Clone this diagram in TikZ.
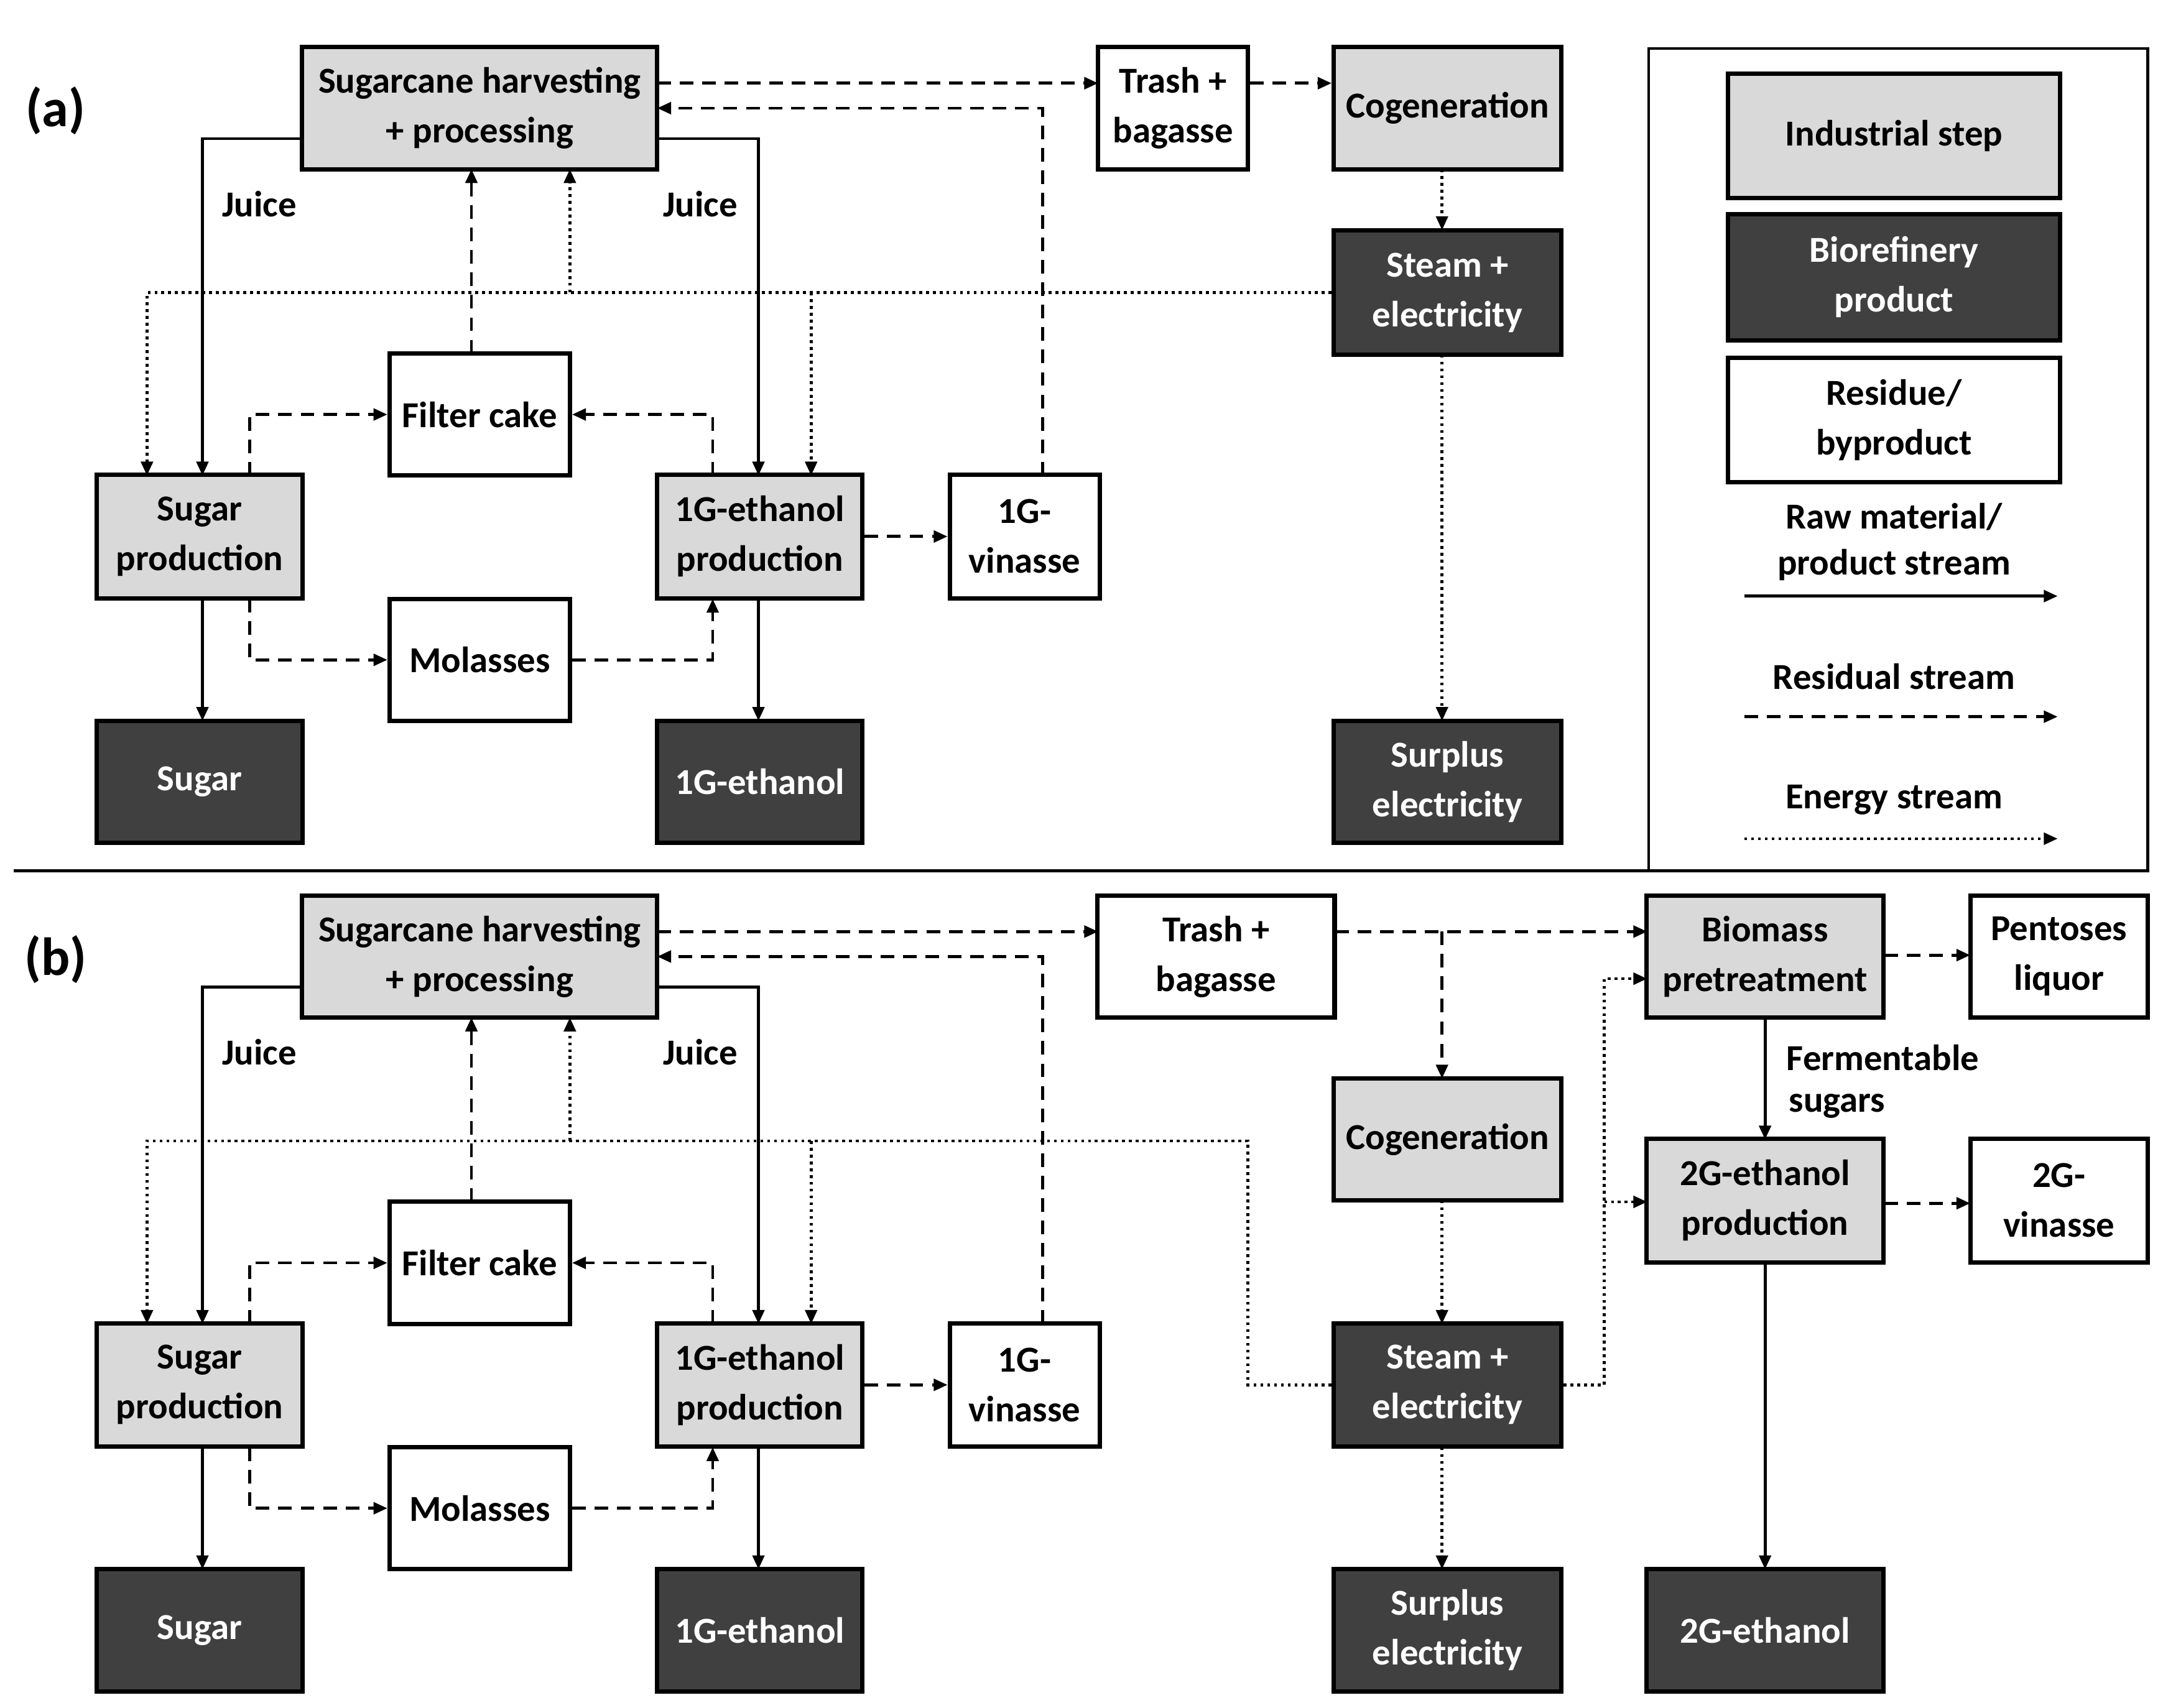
\documentclass[tikz,border=0pt]{standalone}
\usepackage{fontspec}
\setmainfont{Carlito}
\usetikzlibrary{arrows.meta}
\definecolor{lg}{RGB}{217,217,217}
\definecolor{dg}{RGB}{64,64,64}
\tikzset{
 bx/.style={draw=black,line width=0.9pt,inner sep=0pt,align=center,font=\fontsize{7.5}{10.2}\selectfont\bfseries},
 ind/.style={bx,fill=lg},
 bio/.style={bx,fill=dg,text=white},
 res/.style={bx,fill=white},
 tip/.style={-{Triangle[length=1mm,width=0.85mm]}},
 raw/.style={tip,line width=0.6pt},
 resid/.style={tip,line width=0.6pt,dash pattern=on 2.8pt off 1.8pt},
 ener/.style={tip,line width=0.6pt,dash pattern=on 0.6pt off 0.8pt},
 lbl/.style={align=center,font=\fontsize{7.5}{9.4}\selectfont\bfseries},
}
\newcommand{\mypanel}{%
 \node[ind,minimum width=2.56cm,minimum height=0.88cm] (sh) at (346,78) {Sugarcane harvesting\\+ processing};
 \node[res,minimum width=1.30cm,minimum height=0.88cm] (fc) at (346,299) {Filter cake};
 \node[ind,minimum width=1.48cm,minimum height=0.89cm] (sp) at (144,387) {Sugar\\production};
 \node[ind,minimum width=1.48cm,minimum height=0.89cm] (ep) at (548,387) {1G-ethanol\\production};
 \node[res,minimum width=1.08cm,minimum height=0.89cm] (vn) at (739,387) {1G-\\vinasse};
 \node[res,minimum width=1.30cm,minimum height=0.88cm] (ml) at (346,476) {Molasses};
 \node[bio,minimum width=1.48cm,minimum height=0.88cm] (sg) at (144,564) {Sugar};
 \node[bio,minimum width=1.48cm,minimum height=0.88cm] (et) at (548,564) {1G-ethanol};
 \node[lbl] (j1) at (187,147) {Juice};
 \node[lbl] (j2) at (505,147) {Juice};
 \draw[raw] (218,100) -| (146,343);
 \draw[raw] (474,100) -| (547,343);
 \draw[raw] (146,432) -- (146,520);
 \draw[raw] (547,432) -- (547,520);
 \draw[resid] (474,60) -- (792,60);
 \draw[resid] (752,343) |- (474,78);
 \draw[resid] (340,255) -- (340,122);
 \draw[resid] (180,343) |- (fc.west);
 \draw[resid] (514,343) |- (fc.east);
 \draw[resid] (180,432) |- (ml.west);
 \draw[resid] (ml.east) -| (514,432);
 \draw[resid] (ep.east) -- (vn.west);
 \draw[ener] (411,211) -- (411,122);
 \draw[ener] (585,211) -- (585,343);
}
\begin{document}
\begin{tikzpicture}[x=0.01cm,y=-0.01cm]
\useasboundingbox (0,0) rectangle (1560,1232);
% panel (a)
\node[font=\fontsize{11}{12}\selectfont\bfseries] (la) at (40,80) {(a)};
\begin{scope}[name prefix=a-]
\mypanel
\node[res,minimum width=1.08cm,minimum height=0.88cm] (tr) at (846,78) {Trash +\\bagasse};
\node[ind,minimum width=1.64cm,minimum height=0.88cm] (cg) at (1044,78) {Cogeneration};
\node[bio,minimum width=1.64cm,minimum height=0.90cm] (st) at (1044,211) {Steam +\\electricity};
\node[bio,minimum width=1.64cm,minimum height=0.88cm] (su) at (1044,564) {Surplus\\electricity};
\draw[resid] (tr.east |- 0,60) -- (cg.west |- 0,60);
\draw[ener] (1040,122) -- (1040,166);
\draw[ener] (1040,256) -- (1040,520);
\draw[ener] (st.west) -| (106,343);
\end{scope}
% legend
\draw[line width=0.6pt] (1189,35) rectangle (1549,628);
\node[ind,minimum width=2.39cm,minimum height=0.90cm] (l1) at (1366,98) {Industrial\ step};
\node[bio,minimum width=2.39cm,minimum height=0.91cm] (l2) at (1366,200) {Biorefinery\\product};
\node[res,minimum width=2.39cm,minimum height=0.90cm] (l3) at (1366,303) {Residue/\\byproduct};
\node[lbl] (t1) at (1366,391) {Raw material/\\product stream};
\node[lbl] (t2) at (1366,488) {Residual stream};
\node[lbl] (t3) at (1366,577) {Energy stream};
\coordinate (r1) at (1258,430); \coordinate (r2) at (1484,430);
\coordinate (s1) at (1258,517); \coordinate (s2) at (1484,517);
\coordinate (e1) at (1258,605); \coordinate (e2) at (1484,605);
\draw[raw] (r1) -- (r2);
\draw[resid] (s1) -- (s2);
\draw[ener] (e1) -- (e2);
\draw[line width=0.6pt] (10,628) -- (1549,628);
% panel (b)
\node[font=\fontsize{11}{12}\selectfont\bfseries] (lb) at (40,692) {(b)};
\begin{scope}[name prefix=b-,shift={(0,612)}]
\mypanel
\node[res,minimum width=1.71cm,minimum height=0.88cm] (tr) at (877,78) {Trash +\\bagasse};
\node[ind,minimum width=1.71cm,minimum height=0.88cm] (bp) at (1273,78) {Biomass\\pretreatment};
\node[res,minimum width=1.28cm,minimum height=0.88cm] (pl) at (1485,78) {Pentoses\\liquor};
\node[ind,minimum width=1.64cm,minimum height=0.88cm] (cg) at (1044,210) {Cogeneration};
\node[ind,minimum width=1.71cm,minimum height=0.89cm] (gp) at (1273,254) {2G-ethanol\\production};
\node[res,minimum width=1.28cm,minimum height=0.89cm] (gv) at (1485,254) {2G-\\vinasse};
\node[bio,minimum width=1.64cm,minimum height=0.89cm] (st) at (1044,387) {Steam +\\electricity};
\node[bio,minimum width=1.64cm,minimum height=0.88cm] (su) at (1044,564) {Surplus\\electricity};
\node[bio,minimum width=1.71cm,minimum height=0.88cm] (ge) at (1273,564) {2G-ethanol};
\node[lbl] (fs1) at (1358,151) {Fermentable};
\node[lbl] (fs2) at (1325,186) {sugars};
\draw[resid] (963,60) -- (1188,60);
\draw[resid] (1040,60) -- (1040,166);
\draw[resid] (1359,77) -- (1421,77);
\draw[resid] (1359,256) -- (1421,256);
\draw[raw] (1273,122) -- (1273,210);
\draw[raw] (1273,299) -- (1273,520);
\draw[ener] (1040,254) -- (1040,343);
\draw[ener] (1040,432) -- (1040,520);
\draw[ener] (st.west) -| (900,211) -| (106,343);
\draw[ener] (st.east) -| (1157,94) -- (1188,94);
\draw[ener] (1157,255) -- (1188,255);
\end{scope}
\end{tikzpicture}
\end{document}
